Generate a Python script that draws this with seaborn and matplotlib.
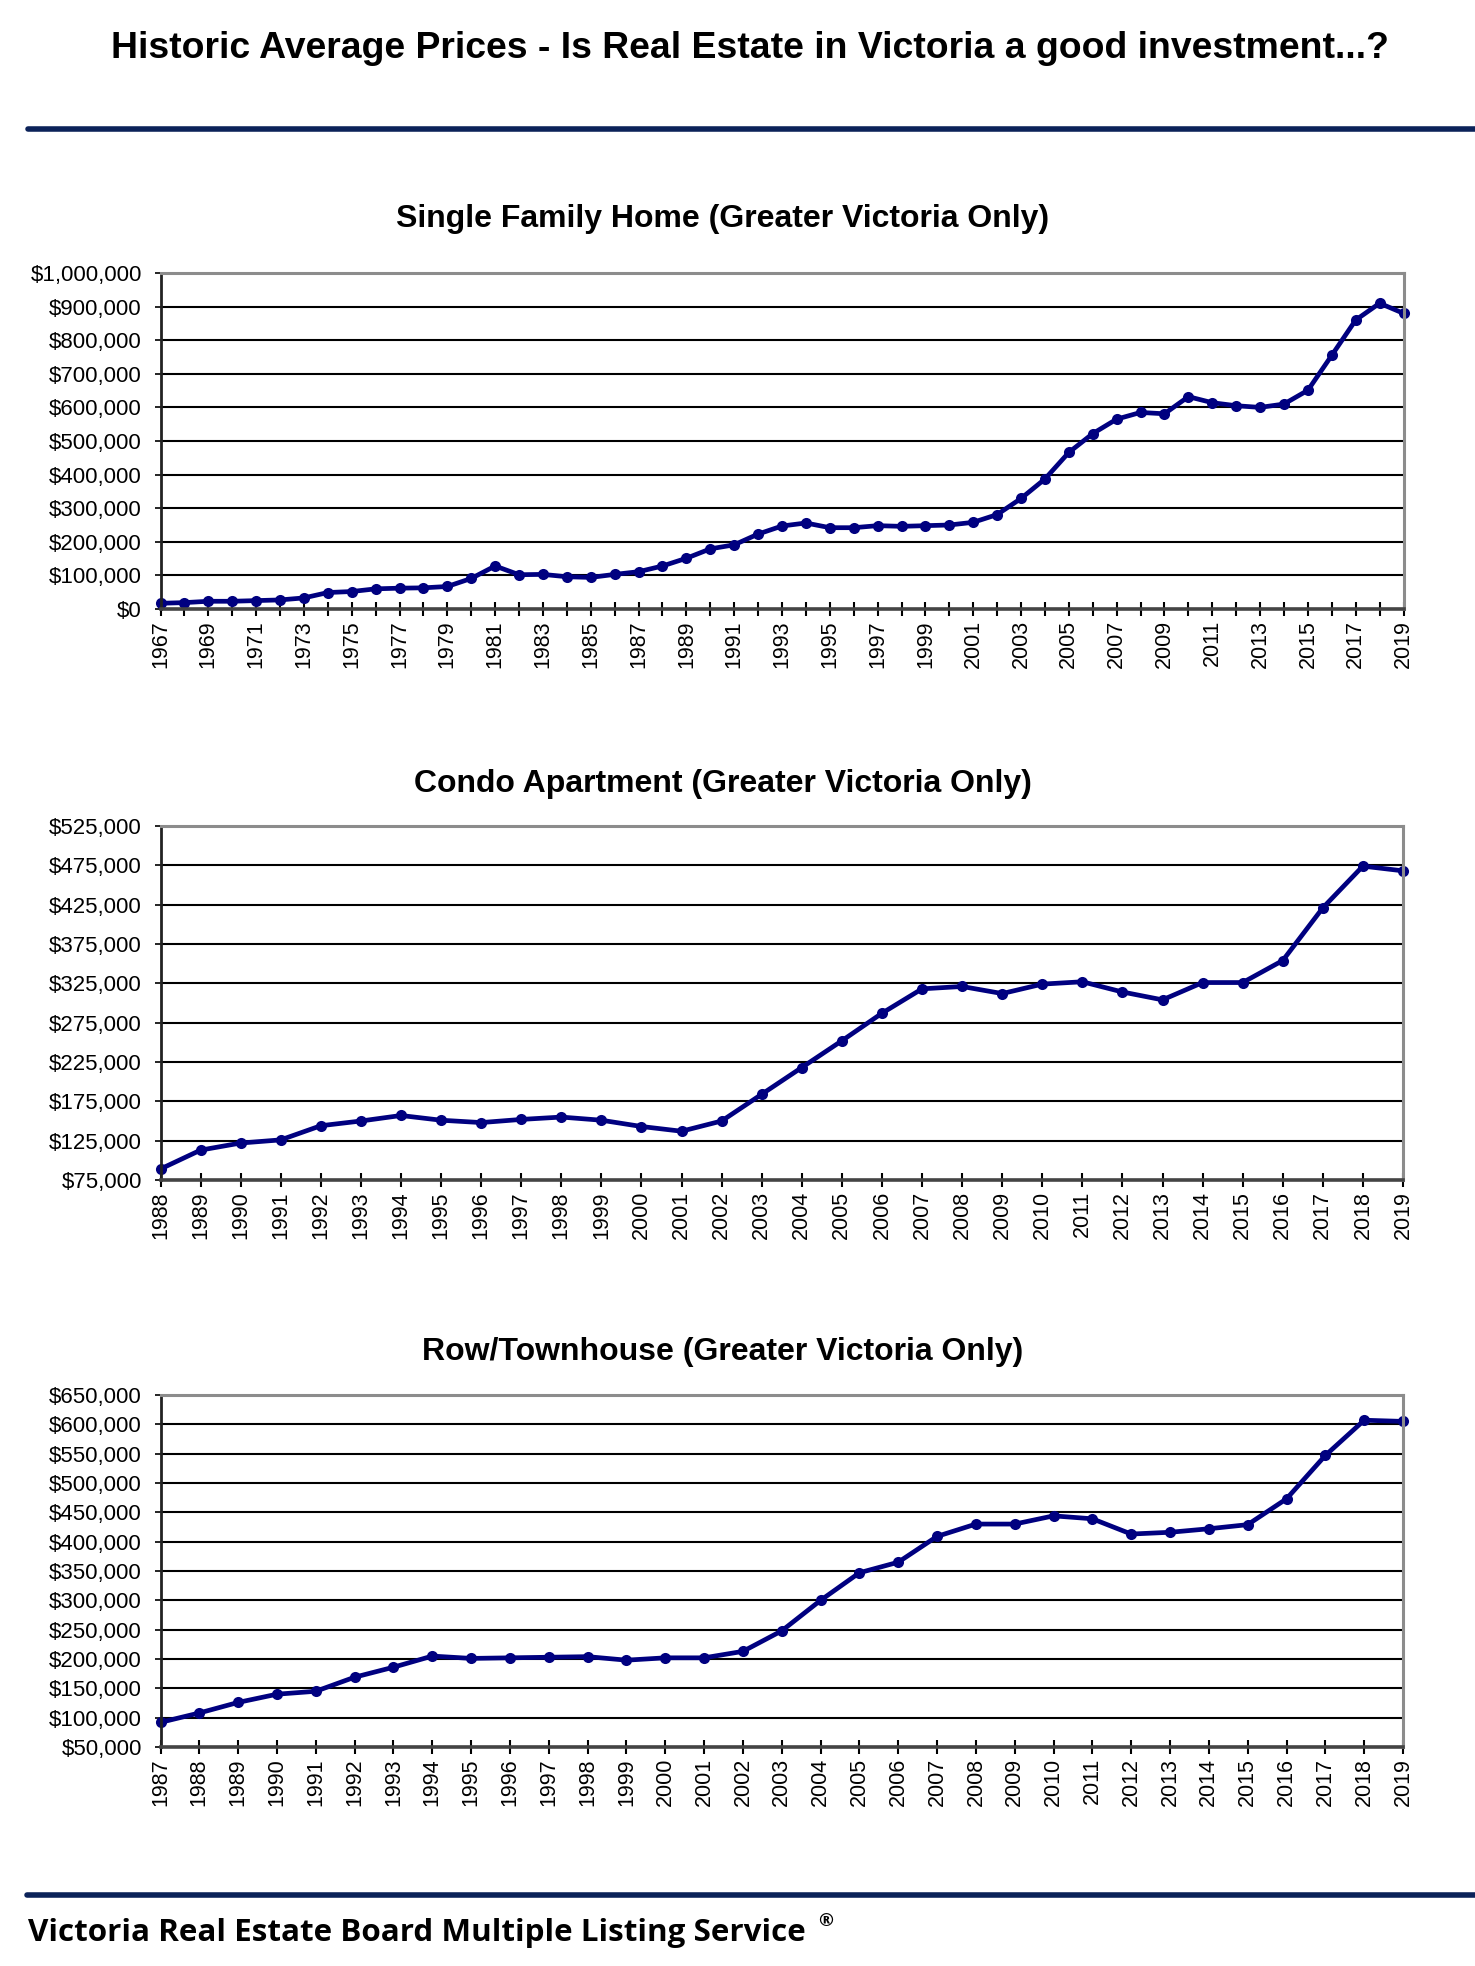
import matplotlib
matplotlib.use("Agg")
import matplotlib.pyplot as plt
from matplotlib.lines import Line2D
from matplotlib.ticker import FuncFormatter
import pandas as pd
import seaborn as sns

# Data
sfh_years = list(range(1967, 2020))
sfh_prices = [
    17000, 19000, 23000, 23000, 25000, 27000, 33000, 49000, 52000, 60000,
    62000, 63000, 67000, 91000, 128000, 102000, 103000, 96000, 94000, 103000,
    111000, 128000, 151000, 179000, 191000, 223000, 247000, 256000, 242000, 242000,
    248000, 246000, 248000, 250000, 258000, 281000, 329000, 387000, 466000, 522000,
    565000, 585000, 581000, 632000, 614000, 605000, 600000, 610000, 651000, 755000,
    860000, 910000, 880000,
]

condo_years = list(range(1988, 2020))
condo_prices = [
    89000, 113000, 122000, 126000, 144000, 150000, 157000, 151000, 148000, 152000,
    155000, 151000, 143000, 137000, 150000, 184000, 218000, 252000, 287000, 318000,
    321000, 312000, 324000, 327000, 314000, 304000, 326000, 326000, 354000, 421000,
    474000, 468000,
]

town_years = list(range(1987, 2020))
town_prices = [
    92000, 108000, 126000, 140000, 145000, 169000, 186000, 205000, 201000, 202000,
    203000, 204000, 198000, 202000, 202000, 213000, 248000, 300000, 347000, 365000,
    409000, 430000, 430000, 444000, 439000, 413000, 416000, 422000, 429000, 473000,
    547000, 607000, 605000,
]

main_title = "Historic Average Prices - Is Real Estate in Victoria a good investment...?"
footer = "Victoria Real Estate Board Multiple Listing Service"

W, H = 1475, 1966
NAVY = "#000080"
BAR = "#0b2259"

sns.set_theme(style="white")
plt.rcParams["font.family"] = ["Liberation Sans", "DejaVu Sans"]

fig = plt.figure(figsize=(W / 100, H / 100), dpi=100)


def px_box(left, top, right, bottom):
    return [left / W, 1 - bottom / H, (right - left) / W, (bottom - top) / H]


def money(v, pos):
    return "${:,.0f}".format(v)


def draw_panel(box, years, prices, title, title_y, ylo, yhi, ystep, label_every):
    ax = fig.add_axes(box)
    df = pd.DataFrame({"year": years, "price": prices})
    sns.lineplot(data=df, x="year", y="price", ax=ax, color=NAVY, lw=3.4,
                 marker="o", markersize=8, markeredgewidth=0, clip_on=False)
    ax.set_xlim(years[0], years[-1])
    ax.set_ylim(ylo, yhi)
    ax.set_yticks(list(range(ylo, yhi + 1, ystep)))
    ax.yaxis.set_major_formatter(FuncFormatter(money))
    ax.set_xticks(years)
    ax.set_xticklabels([str(y) if (y - years[0]) % label_every == 0 else "" for y in years],
                       rotation=90)
    ax.grid(axis="y", color="black", lw=1.5)
    ax.grid(axis="x", visible=False)
    ax.set_axisbelow(True)
    ax.set_xlabel("")
    ax.set_ylabel("")
    ax.tick_params(axis="y", left=True, direction="out", length=4.5, width=1.2,
                   labelsize=16, pad=9, colors="black")
    ax.tick_params(axis="x", bottom=True, direction="inout", length=10, width=1.5,
                   labelsize=15.5, pad=3, colors="black")
    for side in ["top", "right"]:
        ax.spines[side].set_color("#8c8c8c")
        ax.spines[side].set_linewidth(2.2)
    ax.spines["left"].set_color("#222222")
    ax.spines["left"].set_linewidth(2)
    ax.spines["bottom"].set_color("#444444")
    ax.spines["bottom"].set_linewidth(2.6)
    fig.text(0.49, 1 - title_y / H, title, ha="center", va="center",
             fontsize=23, fontweight="bold", color="black")
    return ax


draw_panel(px_box(160.5, 273, 1403.5, 609), sfh_years, sfh_prices,
           "Single Family Home (Greater Victoria Only)", 219, 0, 1000000, 100000, 2)
draw_panel(px_box(160.5, 826, 1403, 1180), condo_years, condo_prices,
           "Condo Apartment (Greater Victoria Only)", 784, 75000, 525000, 50000, 1)
draw_panel(px_box(160.5, 1395, 1403, 1747), town_years, town_prices,
           "Row/Townhouse (Greater Victoria Only)", 1352, 50000, 650000, 50000, 1)

# header and footer
fig.text(750 / W, 1 - 48 / H, main_title, ha="center", va="center",
         fontsize=26.9, fontweight="bold", color="black")
fig.add_artist(Line2D([28 / W, 1], [1 - 129 / H] * 2, color=BAR, lw=4))
fig.add_artist(Line2D([27 / W, 1], [1 - 1895 / H] * 2, color=BAR, lw=4))
foot = fig.text(28 / W, 1 - 1933 / H, footer, ha="left", va="center",
                fontsize=22.6, fontweight="bold", color="black",
                family=["Open Sans", "DejaVu Sans"])

# registered mark placed just after the footer text, raised
fig.canvas.draw()
bb = foot.get_window_extent()
fig.text((bb.x1 + 12) / W, 1 - 1921 / H, "\u00ae", ha="left", va="center",
         fontsize=13, fontweight="bold", color="black", family=["Open Sans", "DejaVu Sans"])

fig.savefig("out.png", dpi=100)
